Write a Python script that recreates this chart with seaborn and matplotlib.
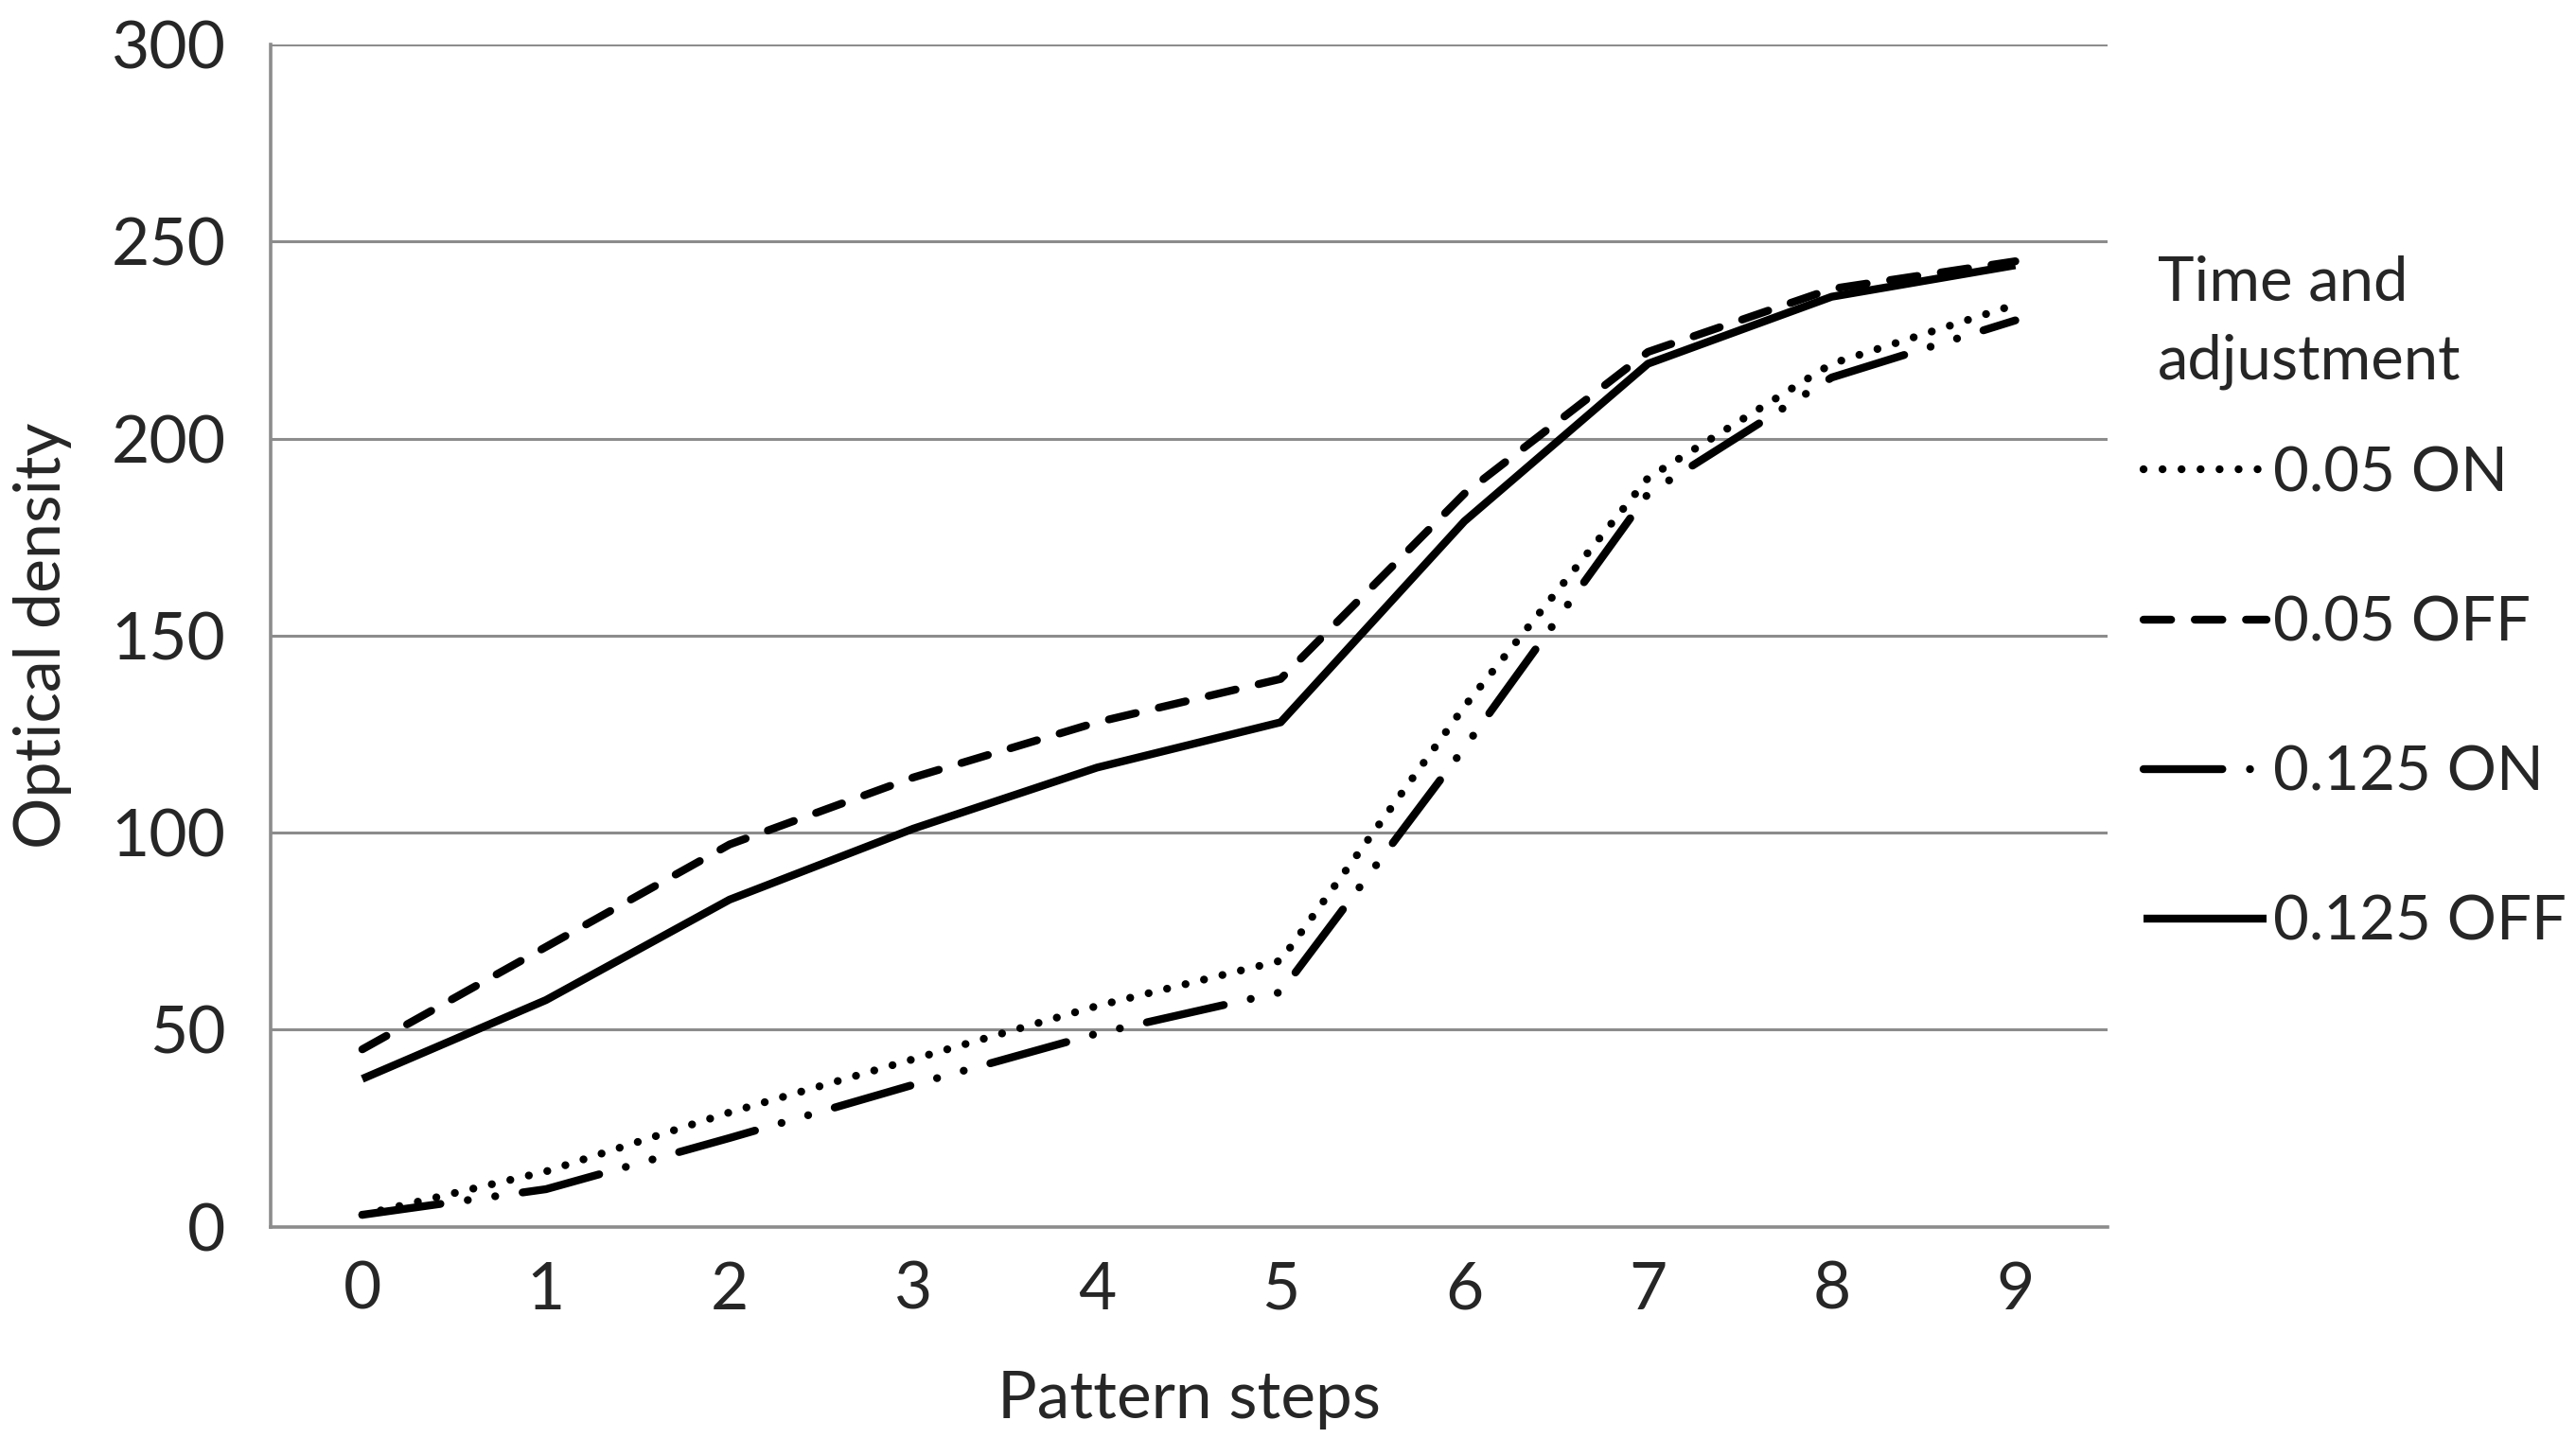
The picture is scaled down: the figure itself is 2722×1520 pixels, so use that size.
import numpy as np
import pandas as pd
import matplotlib
matplotlib.use("Agg")
import matplotlib.pyplot as plt
import seaborn as sns

# values
steps = list(range(10))
on_005 = [3, 14, 29, 42.5, 56, 67.5, 132, 190, 219, 234]
off_005 = [45, 71, 97, 114, 128, 139, 186, 222, 238, 245]
on_0125 = [3, 9.5, 22.5, 36, 49, 59.5, 121.5, 186, 215.5, 230]
off_0125 = [37.5, 57.5, 83, 101, 116.5, 128, 179, 219, 236, 244]
series_names = ["0.05 ON", "0.05 OFF", "0.125 ON", "0.125 OFF"]
yticks = [0, 50, 100, 150, 200, 250, 300]

df = pd.DataFrame({
    "step": steps * 4,
    "value": on_005 + off_005 + on_0125 + off_0125,
    "series": sum([[n] * len(steps) for n in series_names], []),
})

sns.set_theme(style="white")
plt.rcParams["font.family"] = ["Lato", "DejaVu Sans"]

fig = plt.figure(figsize=(27.22, 15.2), dpi=100)
ax = fig.add_axes([0.105, 0.147, 0.713, 0.822])

dash_map = {
    "0.05 ON": (0.01, 2.4),
    "0.05 OFF": (3.5, 3.0),
    "0.125 ON": (10, 3.5, 0.01, 3.5, 0.01, 3.5),
    "0.125 OFF": "",
}
sns.lineplot(data=df, x="step", y="value", hue="series", style="series",
             palette=["black"] * 4, dashes=dash_map, linewidth=6,
             dash_capstyle="round", solid_capstyle="butt", ax=ax, legend=True)

grid_c = "#8c8c8c"
ax.set_xlim(-0.5, 9.5)
ax.set_ylim(0, 300)
ax.set_yticks(yticks)
ax.yaxis.grid(True, color=grid_c, linewidth=2.2)
ax.set_axisbelow(True)
ax.tick_params(axis="y", length=22, width=2.2, color=grid_c, labelsize=50, pad=12)
ax.set_xticks(np.arange(-0.5, 10, 1))
ax.set_xticklabels([])
ax.set_xticks(steps, minor=True)
ax.set_xticklabels([str(s) for s in steps], minor=True)
ax.tick_params(axis="x", which="major", length=22, width=2.2, color=grid_c, direction="out")
ax.tick_params(axis="x", which="minor", length=0, labelsize=50, pad=26)
for s in ["top", "right"]:
    ax.spines[s].set_visible(False)
for s in ["left", "bottom"]:
    ax.spines[s].set_color(grid_c)
    ax.spines[s].set_linewidth(2.6)

ax.set_xlabel("Pattern steps", fontsize=50, labelpad=38)
ax.set_ylabel("Optical density", fontsize=49, labelpad=30)

handles, labels = ax.get_legend_handles_labels()
ax.get_legend().remove()
fig.text(0.8376, 0.823, "Time and\nadjustment", fontsize=47, va="top", ha="left",
         linespacing=1.5)
fig.legend(handles, labels, loc="upper left", bbox_to_anchor=(0.832, 0.690),
           frameon=False, fontsize=47, labelspacing=1.52, handlelength=2.0,
           handletextpad=0.1, borderpad=0, borderaxespad=0)

fig.savefig("out.png", dpi=100)
